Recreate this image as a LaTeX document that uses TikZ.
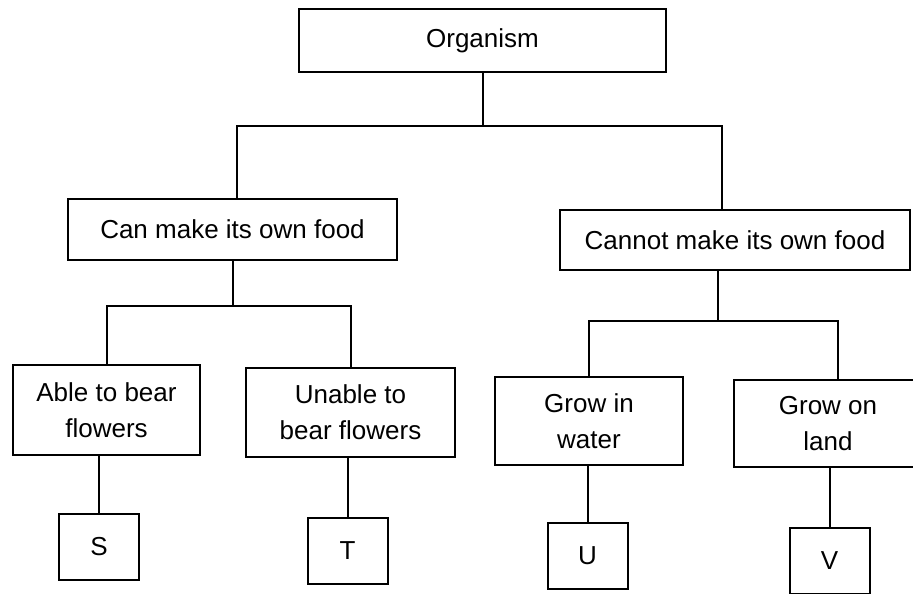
\documentclass[tikz,border=0pt]{standalone}
\usepackage{fontspec}
\setmainfont{Liberation Sans}
\usepackage{tikz}

\tikzset{
  box/.style={draw,line width=2pt,align=center,inner sep=0pt,
    font=\fontsize{26}{36}\selectfont},
  leaf/.style={box,minimum width=80pt,minimum height=66pt}
}

\begin{document}
\begin{tikzpicture}[x=1pt,y=-1pt,line width=2pt]
  \useasboundingbox (0,0) rectangle (913,594);
  \clip (0,0) rectangle (913,594);
  \node[box,minimum width=367pt,minimum height=63pt] (org) at (482.5,40.5) {Organism};
  \node[box,minimum width=329pt,minimum height=61pt] (can) at (232.5,229.5) {Can make its own food};
  \node[box,minimum width=350pt,minimum height=60pt] (cannot) at (735,240) {Cannot make its own food};
  \node[box,minimum width=187pt,minimum height=90pt] (able) at (106.5,410) {Able to bear\\flowers};
  \node[box,minimum width=209pt,minimum height=89pt] (unable) at (350.5,412.5) {Unable to\\bear flowers};
  \node[box,minimum width=188pt,minimum height=88pt] (water) at (589,421) {Grow in\\water};
  \node[box,minimum width=188pt,minimum height=87pt] (land) at (828,423.5) {Grow on\\land};
  \foreach \n/\x/\y in {S/99/547,T/347.5/550.5,U/587.5/556,V/829.5/561}
  {
    \node[leaf] (\n) at (\x,\y) {\n};
  }
  % branches
  \draw (org.south) -- ++(0,53) coordinate (j0);
  \draw ([xshift=4pt]can.north) |- (j0) -| ([xshift=-13pt]cannot.north);
  \draw (can.south) -- ++(0,45) coordinate (j1);
  \draw (able.north) |- (j1) -| (unable.north);
  \draw ([xshift=-17pt]cannot.south) -- ++(0,50) coordinate (j2);
  \draw (water.north) |- (j2) -| ([xshift=10pt]land.north);
  \foreach \a/\b in {able/S,unable/T,water/U,land/V}
  {
    \draw (\b.north) -- (\b.north |- \a.south);
  }
\end{tikzpicture}
\end{document}
